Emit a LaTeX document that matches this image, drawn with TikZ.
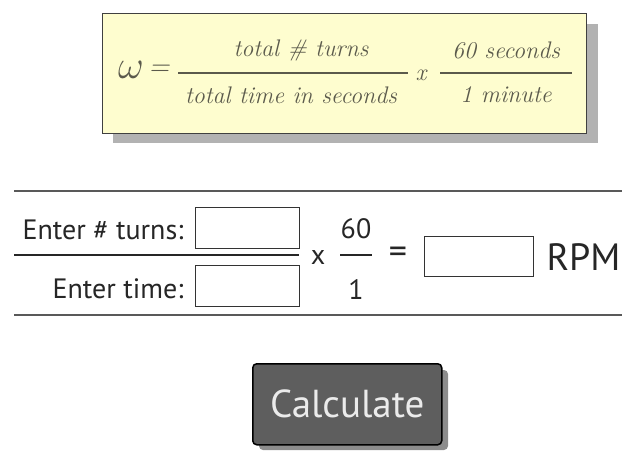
\documentclass[tikz,border=0pt]{standalone}
\usepackage{fontspec}
\setmainfont{PT Sans}
\newfontfamily\handfont{Latin Modern Roman}
\begin{document}
\begin{tikzpicture}[x=1pt,y=-1pt,
  hand/.style={font=\handfont\itshape\fontsize{24}{24}\selectfont, text=hand},
  sans/.style={font=\fontsize{28}{28}\selectfont, text=black!85},
  inbox/.style={draw=black!80, line width=1.2pt, fill=white, minimum width=104pt, minimum height=41pt, inner sep=0pt},
  rule/.style={draw=black!65, line width=2pt}]
\definecolor{hand}{HTML}{5B5A4C}
\definecolor{paper}{HTML}{FEFDCF}
\useasboundingbox (0,0) rectangle (627,453);
% formula card
\fill[black!30] (113,24) rectangle (598,143);
\node[draw=black!75, line width=0.8pt, fill=paper, minimum width=484pt, minimum height=120pt, inner sep=0pt, anchor=north west] (card) at (102,13) {};
\node[hand] (w) at (131,70) {\scalebox{1.6}{$\omega$}};
\node[hand] (eq) at (159,70) {\scalebox{1.2}{=}};
\draw[line width=1.5pt, draw=hand] (178,73) -- (408,73);
\node[hand] (n1) at (301,50) {total \# turns};
\node[hand] (d1) at (291,95) {total time in seconds};
\node[hand] (x1) at (421,75) {x};
\draw[line width=1.5pt, draw=hand] (440,73) -- (572,73);
\node[hand] (n2) at (506,50) {60 seconds};
\node[hand] (d2) at (506,95) {1 minute};
% calculator row
\draw[rule] (14,191) -- (622,191);
\draw[rule] (14,315) -- (622,315);
\node[sans, anchor=east] (t1) at (187,230) {Enter \# turns:};
\node[sans, anchor=east] (t2) at (187,289) {Enter time:};
\node[inbox, anchor=north west] (b1) at (195,207) {};
\node[inbox, anchor=north west] (b2) at (195,265) {};
\draw[draw=black!85, line width=1.8pt] (14,255) -- (299,255);
\node[sans] (xx) at (318,257) {x};
\node[sans] (s60) at (356,229) {60};
\draw[draw=black!85, line width=1.5pt] (340,255) -- (372,255);
\node[sans] (s1) at (356,290) {1};
\node[sans, font=\fontsize{36}{36}\selectfont] (eq2) at (398,255) {=};
\node[inbox, anchor=north west, minimum width=109pt, minimum height=40pt] (res) at (424,236) {};
\node[sans, font=\fontsize{38}{38}\selectfont, anchor=west] (rpm) at (543,257) {RPM};
% button
\fill[black!45, rounded corners=4pt] (259,370) rectangle (448,450);
\node[draw=black, line width=1.5pt, fill=black!63, rounded corners=4pt, minimum width=189pt, minimum height=81pt, anchor=north west, inner sep=0pt] (btn) at (252,363) {};
\node[font=\fontsize{39}{39}\selectfont, text=white!92!black] (calc) at (btn.center) {Calculate};
\end{tikzpicture}
\end{document}
